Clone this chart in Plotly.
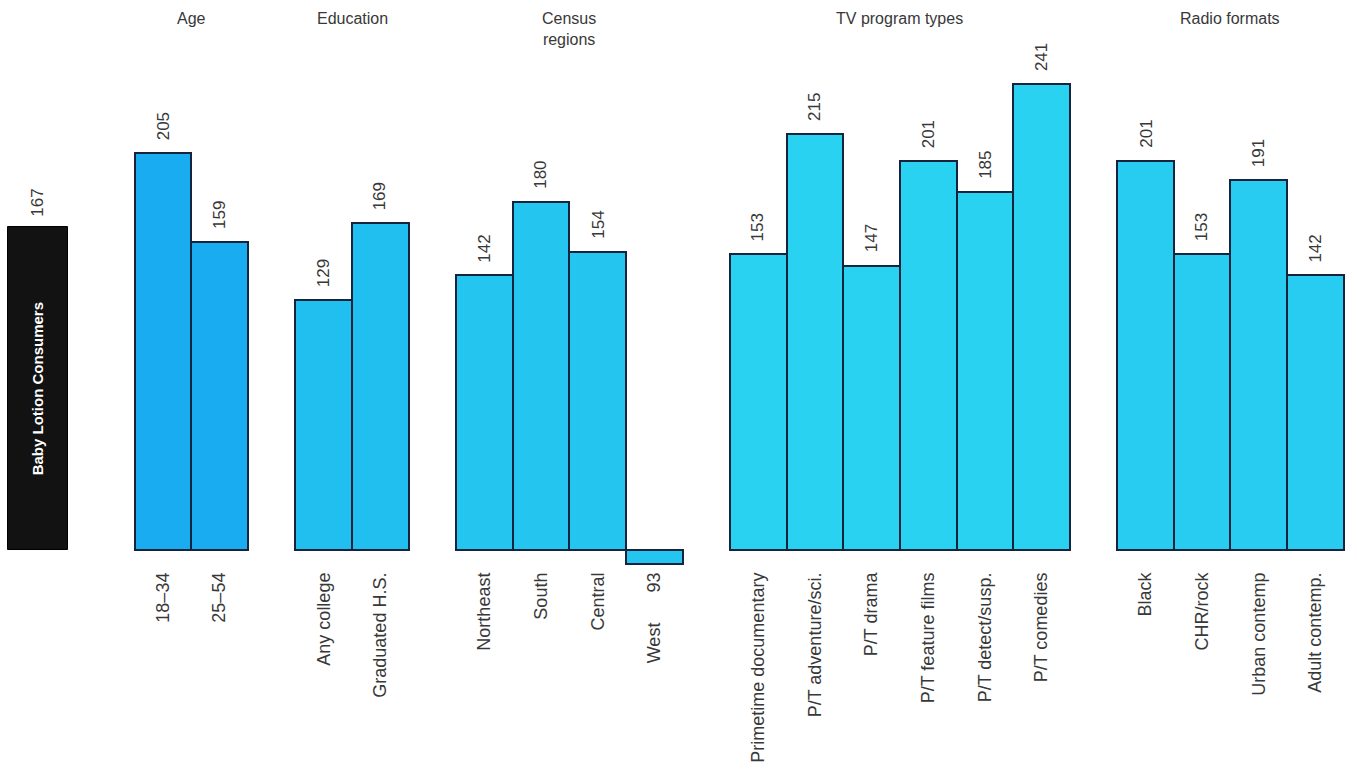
import plotly.graph_objects as go

# ---- data ----
group_titles = ["Age", "Education", "Census<br>regions", "TV program types", "Radio formats"]
age_labels = ["18–34", "25–54"]
age_values = [205, 159]
edu_labels = ["Any college", "Graduated H.S."]
edu_values = [129, 169]
census_labels = ["Northeast", "South", "Central", "West"]
census_values = [142, 180, 154, 93]
tv_labels = ["Primetime documentary", "P/T adventure/sci.", "P/T drama",
             "P/T feature films", "P/T detect/susp.", "P/T comedies"]
tv_values = [153, 215, 147, 201, 185, 241]
radio_labels = ["Black", "CHR/rock", "Urban contemp", "Adult contemp."]
radio_values = [201, 153, 191, 142]
total_label = "Baby Lotion Consumers"
total_value = 167
index_base = 100

# ---- style ----
group_colors = ["#1aacf0", "#20bff0", "#24c6f0", "#2ad2f2", "#27ccf0"]
outline = "#16233d"
txt = "#383838"
FONT = "Liberation Sans, Arial, sans-serif"
gap = 0.84
px_per_unit_x = 56.6
px_per_unit_y = 1.935
x0_px = 163
base_px = 550
plot_bottom_px = 568

groups = [
    (age_labels, age_values),
    (edu_labels, edu_values),
    (census_labels, census_values),
    (tv_labels, tv_values),
    (radio_labels, radio_values),
]

xs, heights, colors, ticktext, centers = [], [], [], [], []
pos = 0.0
annotations = []
for gi, (labels, values) in enumerate(groups):
    start = pos
    for lab, v in zip(labels, values):
        xs.append(pos)
        heights.append(v if v >= index_base else v - index_base)
        colors.append(group_colors[gi])
        if v >= index_base:
            ticktext.append(lab)
            annotations.append(dict(x=pos, y=v, xref="x", yref="y", text=str(v),
                                    textangle=-90, showarrow=False, yanchor="bottom",
                                    xanchor="center", yshift=11,
                                    font=dict(size=17, color=txt, family=FONT)))
        else:
            ticktext.append(lab + "\u00a0" * 6 + str(v))
        pos += 1
    centers.append((start + pos - 1) / 2)
    pos += gap

total_x = -2.21

fig = go.Figure()
fig.add_bar(x=xs, y=heights, width=1.0,
            marker=dict(color=colors, line=dict(color=outline, width=2)),
            hoverinfo="skip")
fig.add_bar(x=[total_x], y=[total_value], width=1.06,
            marker=dict(color="#121212", line=dict(color="#000000", width=1)),
            hoverinfo="skip")

annotations.append(dict(x=total_x, y=total_value, xref="x", yref="y", text=str(total_value),
                        textangle=-90, showarrow=False, yanchor="bottom", xanchor="center",
                        yshift=8, font=dict(size=17, color=txt, family=FONT)))
annotations.append(dict(x=total_x, y=total_value / 2, xref="x", yref="y",
                        text="<b>" + total_label + "</b>", textangle=-90, showarrow=False,
                        font=dict(size=15, color="#ffffff", family=FONT)))

for c, t in zip(centers, group_titles):
    annotations.append(dict(x=c, y=1, xref="x", yref="paper", text=t, showarrow=False,
                            yanchor="top", xanchor="center", yshift=-8,
                            font=dict(size=16, color=txt, family=FONT)))

ymin = -(plot_bottom_px - base_px) / px_per_unit_y
ymax = base_px / px_per_unit_y
xmin = -x0_px / px_per_unit_x
xmax = (1357 - x0_px) / px_per_unit_x

fig.update_layout(
    width=1357, height=773,
    margin=dict(l=0, r=0, t=0, b=773 - plot_bottom_px),
    paper_bgcolor="white", plot_bgcolor="white",
    barmode="overlay", bargap=0, showlegend=False,
    annotations=annotations,
    xaxis=dict(range=[xmin, xmax], tickvals=xs, ticktext=ticktext, tickangle=-90,
               showgrid=False, zeroline=False, showline=False, ticks="",
               tickfont=dict(size=18, color=txt, family=FONT)),
    yaxis=dict(range=[ymin, ymax], visible=False),
)

fig.write_html("out.html")
